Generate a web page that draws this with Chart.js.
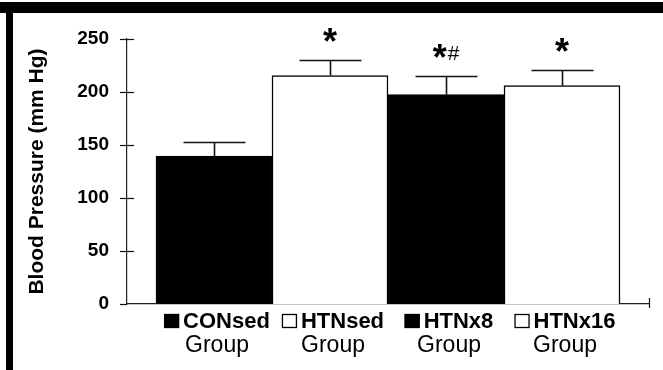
<!DOCTYPE html>
<html>
<head>
<meta charset="utf-8">
<script src="https://cdn.jsdelivr.net/npm/chart.js@4/dist/chart.umd.min.js"></script>
<style>
  html, body { margin: 0; padding: 0; background: #fff; }
  canvas { display: block; }
</style>
</head>
<body>
<canvas id="c" width="663" height="370"></canvas>
<script>
// ---- data ----
const groups    = ["CONsed", "HTNsed", "HTNx8", "HTNx16"];
const subLabels = ["Group", "Group", "Group", "Group"];
const meanBP    = [139.5, 215.5, 197.5, 206];     // bar heights (mm Hg)
const upperBP   = [152.5, 230.5, 215, 220.5];     // top of error bar (mm Hg)
const sigMarks  = ["", "*", "*#", "*"];
const yTicks    = [0, 50, 100, 150, 200, 250];
const yTitle    = "Blood Pressure (mm Hg)";

const FONT = "'Liberation Sans', Arial, Helvetica, sans-serif";
const fills = ['#000', '#fff', '#000', '#fff'];

const overlay = {
  id: 'overlay',
  beforeDraw(chart) {
    const c = chart.ctx;
    c.save();
    c.fillStyle = '#fff';
    c.fillRect(0, 0, chart.width, chart.height);
    c.restore();
  },
  afterDraw(chart) {
    const c = chart.ctx;
    const ys = chart.scales.y;
    const area = chart.chartArea;
    const meta = chart.getDatasetMeta(0);
    c.save();
    c.strokeStyle = '#111';
    c.fillStyle = '#000';

    // y-axis tick marks crossing the axis
    c.lineWidth = 1.2;
    yTicks.forEach(v => {
      const y = Math.round(ys.getPixelForValue(v)) + 0.5;
      c.beginPath();
      c.moveTo(area.left - 7, y);
      c.lineTo(area.left + (v === 0 ? 0 : 7), y);
      c.stroke();
    });
    // x-axis end tick
    c.beginPath();
    c.moveTo(area.right + 0.5, area.bottom - 6);
    c.lineTo(area.right + 0.5, area.bottom + 4);
    c.stroke();

    // error bars (upper only)
    c.lineWidth = 1.6;
    meta.data.forEach((bar, i) => {
      const x = Math.round(bar.x) + 0.5;
      const yTop = ys.getPixelForValue(meanBP[i]);
      const yCap = Math.round(ys.getPixelForValue(upperBP[i])) + 0.5;
      c.beginPath();
      c.moveTo(x, yTop);
      c.lineTo(x, yCap);
      c.moveTo(x - 31, yCap);
      c.lineTo(x + 31, yCap);
      c.stroke();
    });

    // significance marks
    c.textAlign = 'left';
    c.textBaseline = 'alphabetic';
    meta.data.forEach((bar, i) => {
      const mark = sigMarks[i];
      if (!mark) return;
      const yCap = ys.getPixelForValue(upperBP[i]);
      const bottom = yCap - 18;
      c.font = 'bold 36px ' + FONT;
      const mA = c.measureText('*');
      const aBase = bottom - mA.actualBoundingBoxDescent;
      const rest = mark.slice(1);
      c.font = '21px ' + FONT;
      const restW = rest ? c.measureText(rest).width + 1 : 0;
      const total = mA.width + restW;
      const x = bar.x - total / 2;
      c.font = 'bold 36px ' + FONT;
      c.fillText('*', x, aBase);
      if (rest) {
        c.font = '21px ' + FONT;
        const mH = c.measureText(rest);
        c.fillText(rest, x + mA.width + 1, bottom + 2 - mH.actualBoundingBoxDescent);
      }
    });

    // category labels with legend squares
    meta.data.forEach((bar, i) => {
      const cx = bar.x + 3;
      c.font = 'bold 22px ' + FONT;
      const tw = c.measureText(groups[i]).width;
      const sq = 15, gap = 4;
      const total = sq + gap + tw;
      const x0 = cx - total / 2;
      const base1 = 328;
      c.fillStyle = fills[i];
      c.fillRect(x0, base1 - 14, sq, 14);
      c.strokeStyle = '#000';
      c.lineWidth = 1.3;
      c.strokeRect(x0 + 0.5, base1 - 13.5, sq - 1, 13);
      c.fillStyle = '#000';
      c.textAlign = 'left';
      c.textBaseline = 'alphabetic';
      c.fillText(groups[i], x0 + sq + gap, base1);
      c.font = '23px ' + FONT;
      c.textAlign = 'center';
      c.fillText(subLabels[i], cx, 352);
    });

    // black scan frame (top and left)
    c.fillStyle = '#000';
    c.fillRect(0, 2, chart.width, 11);
    c.fillRect(6, 2, 7, chart.height);
    c.restore();
  }
};

new Chart(document.getElementById('c'), {
  type: 'bar',
  data: {
    datasets: [{
      data: groups.map((g, i) => ({ x: i, y: meanBP[i] })),
      backgroundColor: fills,
      borderColor: '#000',
      borderWidth: 1.5,
      barPercentage: 1,
      categoryPercentage: 1
    }]
  },
  options: {
    responsive: false,
    animation: false,
    events: [],
    layout: { padding: { top: 39, right: 14, left: 0, bottom: 0 } },
    plugins: { legend: { display: false }, tooltip: { enabled: false } },
    scales: {
      x: {
        type: 'linear', min: -0.75, max: 3.75, offset: false,
        afterBuildTicks: s => { s.ticks = groups.map((g, i) => ({ value: i })); },
        ticks: { display: false },
        grid: { display: false, drawTicks: false },
        border: { display: true, color: '#222', width: 1.2 },
        afterFit: s => { s.height = 66; }
      },
      y: {
        min: 0, max: 250,
        afterBuildTicks: s => { s.ticks = yTicks.map(v => ({ value: v })); },
        ticks: { font: { family: FONT, size: 19, weight: 'bold' }, color: '#000', padding: 18 },
        grid: { display: false, drawTicks: false },
        border: { display: true, color: '#222', width: 1.2 },
        title: {
          display: true, text: yTitle, color: '#000',
          font: { family: FONT, size: 21, weight: 'bold' },
          padding: { top: 25, bottom: 0 }
        },
        afterFit: s => { s.width = 127; }
      }
    }
  },
  plugins: [overlay]
});
</script>
</body>
</html>
